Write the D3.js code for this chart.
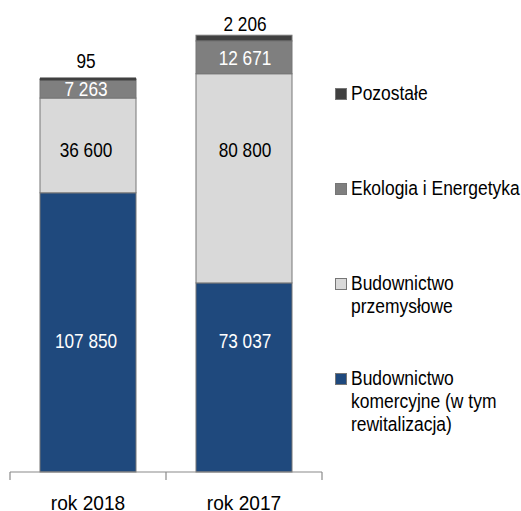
<!DOCTYPE html>
<html>
<head>
<meta charset="utf-8">
<script src="https://cdn.jsdelivr.net/npm/d3@7"></script>
<style>
  html, body { margin: 0; padding: 0; background: #fff; }
  svg { display: block; }
  text { font-family: "Liberation Sans", Arial, sans-serif; }
</style>
</head>
<body>
<script>
// ---- data ----
const categories = ["rok 2018", "rok 2017"];
const komercyjne = [107850, 73037];
const przemyslowe = [36600, 80800];
const ekologia = [7263, 12671];
const pozostale = [95, 2206];
const valueLabels = {
  komercyjne: ["107 850", "73 037"],
  przemyslowe: ["36 600", "80 800"],
  ekologia: ["7 263", "12 671"],
  pozostale: ["95", "2 206"]
};
const legendLines = [
  ["Pozostałe"],
  ["Ekologia i Energetyka"],
  ["Budownictwo", "przemysłowe"],
  ["Budownictwo", "komercyjne (w tym", "rewitalizacja)"]
];

// ---- styling ----
const W = 521, H = 511;
const colors = {komercyjne: "#1F497D", przemyslowe: "#D9D9D9", ekologia: "#7F7F7F", pozostale: "#404040"};
const textColors = {komercyjne: "#ffffff", przemyslowe: "#000000", ekologia: "#ffffff", pozostale: "#000000"};
const keys = ["komercyjne", "przemyslowe", "ekologia", "pozostale"];
const seriesData = {komercyjne, przemyslowe, ekologia, pozostale};
const VAL_SX = 0.82, CAT_SX = 0.91, LEG_SX = 0.895;

const svg = d3.select("body").append("svg").attr("width", W).attr("height", H);

const x = d3.scaleBand().domain(categories).range([10, 322]).paddingInner(0.3846).paddingOuter(0.1923);
const y = d3.scaleLinear().domain([0, 180000]).range([472, 6]);

const rows = categories.map((c, i) => {
  const r = {cat: c};
  keys.forEach(k => r[k] = seriesData[k][i]);
  return r;
});
const stacked = d3.stack().keys(keys)(rows);

const g = svg.append("g");
stacked.forEach(layer => {
  g.selectAll(null).data(layer).enter().append("rect")
    .attr("x", d => x(d.data.cat))
    .attr("width", x.bandwidth())
    .attr("y", d => y(d[1]))
    .attr("height", d => Math.max(0, y(d[0]) - y(d[1])))
    .attr("fill", colors[layer.key])
    .attr("stroke", "#767676")
    .attr("stroke-width", 1);
});
// visible cap for tiny segments
stacked[3].forEach(d => {
  const h = y(d[0]) - y(d[1]);
  if (h < 2) {
    g.append("rect").attr("x", x(d.data.cat)).attr("width", x.bandwidth())
      .attr("y", y(d[1]) - 1.5).attr("height", 3).attr("fill", colors.pozostale);
  }
});

// ---- axis ----
const axisY = y(0);
const tickXs = categories.map(c => x(c) - x.step() * x.paddingInner() / 2).concat([x.range()[1]]);
const axisG = svg.append("g").attr("stroke", "#8a8a8a").attr("stroke-width", 1.2);
axisG.append("line").attr("x1", x.range()[0]).attr("x2", x.range()[1]).attr("y1", axisY).attr("y2", axisY);
tickXs.forEach(tx => axisG.append("line").attr("x1", tx).attr("x2", tx).attr("y1", axisY).attr("y2", axisY + 8));

svg.selectAll(null).data(categories).enter().append("text")
  .attr("transform", d => `translate(${x(d) + x.bandwidth() / 2},509.5) scale(${CAT_SX},1)`)
  .attr("text-anchor", "middle")
  .attr("font-size", 21)
  .attr("fill", "#000")
  .text(d => d);

// ---- value labels ----
const labelBaseline = {
  komercyjne: () => 348,
  przemyslowe: () => 156.5,
  ekologia: (d) => (y(d[0]) + y(d[1])) / 2 + 7.5,
  pozostale: (d, i) => y(d[1]) - (i === 0 ? 10.5 : 4)
};
const labelDx = [-2, 1];
stacked.forEach(layer => {
  svg.selectAll(null).data(layer).enter().append("text")
    .attr("transform", (d, i) => `translate(${x(d.data.cat) + x.bandwidth() / 2 + labelDx[i]},${labelBaseline[layer.key](d, i)}) scale(${VAL_SX},1)`)
    .attr("text-anchor", "middle")
    .attr("font-size", 21)
    .attr("fill", textColors[layer.key])
    .text((d, i) => valueLabels[layer.key][i]);
});

// ---- legend ----
const legendKeys = ["pozostale", "ekologia", "przemyslowe", "komercyjne"];
const legendBase = [100, 195, 290, 385];
const lineH = 22.8;
legendKeys.forEach((k, i) => {
  const b = legendBase[i];
  svg.append("rect").attr("x", 335.5).attr("y", b - 11.5).attr("width", 11).attr("height", 11)
    .attr("fill", colors[k]).attr("stroke", "#767676").attr("stroke-width", 1);
  const t = svg.append("text").attr("transform", `translate(351,${b}) scale(${LEG_SX},1)`)
    .attr("font-size", 19.5).attr("fill", "#000");
  legendLines[i].forEach((ln, j) => {
    t.append("tspan").attr("x", 0).attr("y", j * lineH).text(ln);
  });
});
</script>
</body>
</html>
